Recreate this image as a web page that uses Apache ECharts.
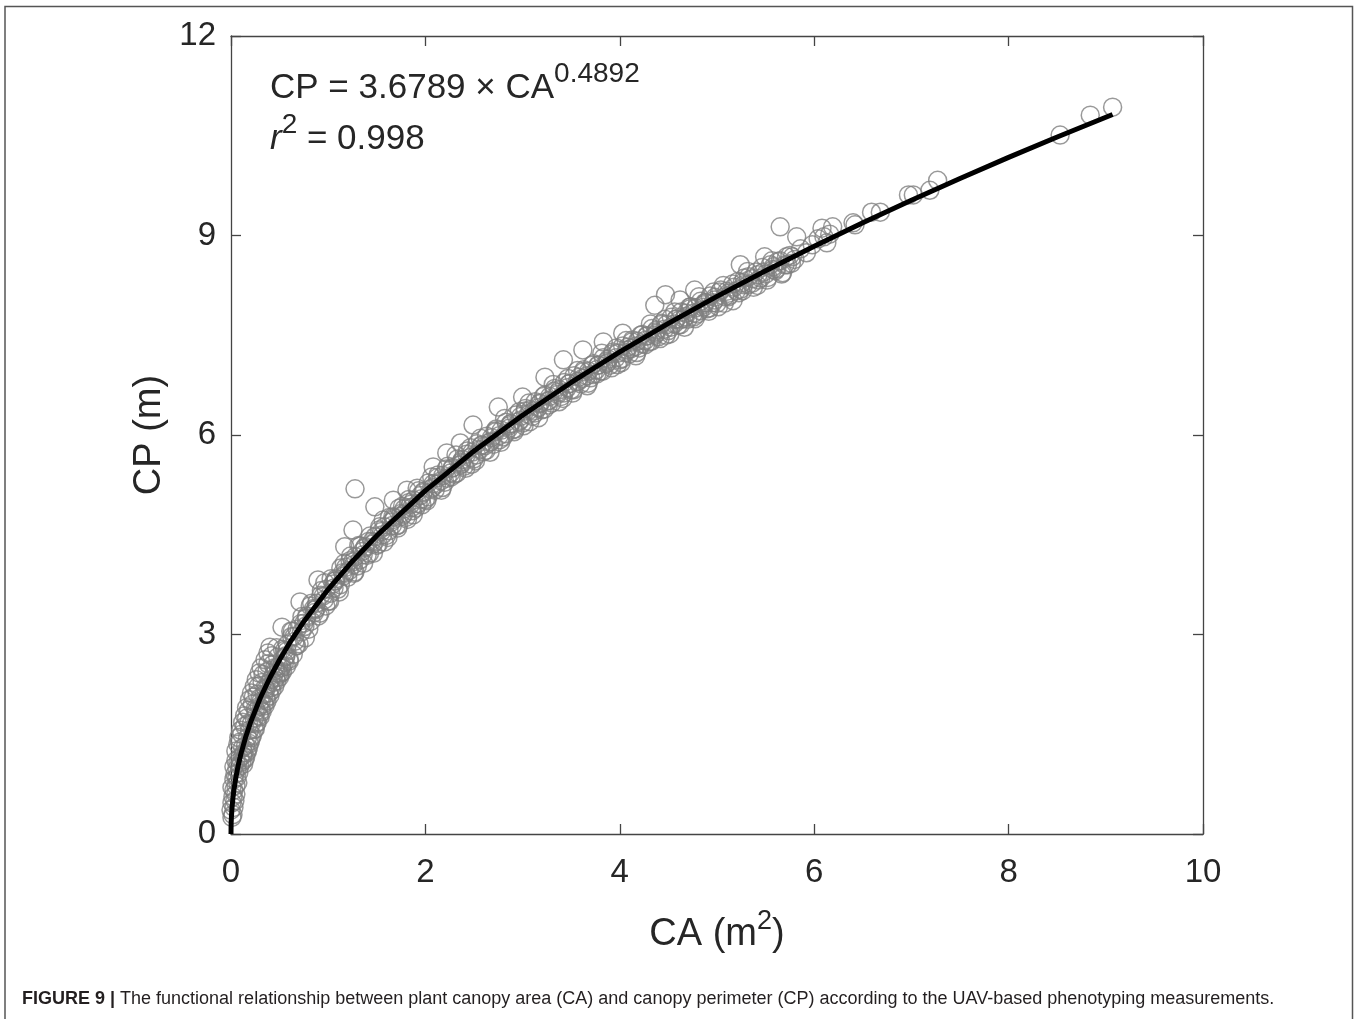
<!DOCTYPE html>
<html>
<head>
<meta charset="utf-8">
<script src="https://cdn.jsdelivr.net/npm/echarts@6/dist/echarts.min.js"></script>
<style>
html,body{margin:0;padding:0;background:#fff;}
#c{width:1359px;height:1019px;}
</style>
</head>
<body>
<div id="c"></div>
<script>
// ---- data ----
const xTicks = [0, 2, 4, 6, 8, 10];
const yTicks = [0, 3, 6, 9, 12];

// fitted curve CP vs CA
const fitCA = [0, 0.001, 0.002, 0.005, 0.01, 0.02, 0.03, 0.05, 0.07, 0.1, 0.15, 0.2, 0.3, 0.4, 0.5, 0.6, 0.75, 1, 1.25, 1.5, 2, 2.5, 3, 3.5, 4, 4.5, 5, 5.5, 6, 6.5, 7, 7.5, 8, 8.5, 9.07];
const fitCP = [0, 0.125, 0.176, 0.276, 0.387, 0.543, 0.662, 0.850, 1.002, 1.193, 1.454, 1.674, 2.041, 2.350, 2.621, 2.866, 3.196, 3.679, 4.103, 4.486, 5.164, 5.760, 6.297, 6.790, 7.249, 7.679, 8.085, 8.471, 8.839, 9.192, 9.531, 9.858, 10.175, 10.481, 10.819];

// observations: small canopies
const lowPoints = [
[0.01,0.25],[0.02,0.29],[0.00,0.36],[0.03,0.40],[0.01,0.47],[0.04,0.50],[0.02,0.56],[0.05,0.60],[0.03,0.66],[0.01,0.70],
[0.05,0.73],[0.07,0.77],[0.03,0.82],[0.06,0.85],[0.04,0.90],[0.08,0.92],[0.06,0.98],[0.03,1.01],[0.09,1.02],[0.07,1.07],
[0.11,1.08],[0.05,1.10],[0.09,1.14],[0.12,1.18],[0.09,1.38],[0.13,1.22],[0.11,1.50],[0.15,1.33],[0.14,1.62],[0.17,1.45],
[0.16,1.74],[0.19,1.56],[0.18,1.86],[0.21,1.66],[0.22,1.95],[0.24,1.74],[0.23,2.06],[0.26,1.85],[0.27,2.10],[0.29,1.92],
[0.28,2.22],[0.31,2.00],[0.32,2.28],[0.34,2.10],[0.33,2.40],[0.36,2.18],[0.37,2.44],[0.39,2.26],[0.38,2.56],[0.41,2.32],
[0.43,2.55],[0.44,2.40],[0.42,2.68],[0.46,2.46],[0.48,2.66],[0.49,2.52],[0.47,2.80],[0.12,1.30],[0.18,1.66],[0.25,1.88],
[0.30,2.05],[0.35,2.20],[0.45,2.50],[0.13,1.05],[0.15,1.15],[0.17,1.25],[0.19,1.36],[0.21,1.45],[0.24,1.57],[0.26,1.66],
[0.29,1.78],[0.31,1.86],[0.34,1.96],[0.36,2.04],[0.39,2.12],[0.41,2.20],[0.44,2.28],[0.46,2.35],[0.49,2.42],[0.52,2.50],[0.55,2.58]
];
const lowExtra = [
[0.14,1.12],[0.16,1.22],[0.18,1.30],[0.20,1.40],[0.22,1.48],[0.25,1.58],[0.27,1.68],[0.30,1.76],[0.32,1.84],[0.35,1.93],
[0.37,2.00],[0.40,2.08],[0.42,2.16],[0.45,2.22],[0.47,2.30],[0.50,2.36],[0.53,2.44],[0.57,2.52],[0.60,2.60],[0.64,2.70],
[0.05,1.25],[0.07,1.35],[0.08,1.45],[0.10,1.56],[0.12,1.68],[0.14,1.78],[0.16,1.90],[0.19,2.02],[0.21,2.12],[0.24,2.22],
[0.26,2.32],[0.29,2.42],[0.31,2.50],[0.35,2.62],[0.38,2.72]
];

// observations: CA 0.5 - 2
const midPoints = [
[0.50,2.40],[0.53,2.78],[0.56,2.66],[0.60,2.63],[0.63,3.05],[0.66,2.90],[0.70,2.86],[0.73,3.27],[0.76,3.12],[0.80,3.08],
[0.83,3.47],[0.86,3.33],[0.90,3.28],[0.93,3.66],[0.96,3.52],[1.00,3.50],[1.03,3.84],[1.06,3.70],[1.10,3.68],[1.13,4.00],
[1.16,3.88],[1.20,3.86],[1.23,4.18],[1.26,4.05],[1.30,4.03],[1.33,4.33],[1.36,4.20],[1.40,4.19],[1.43,4.48],[1.46,4.36],
[1.50,4.34],[1.53,4.62],[1.56,4.50],[1.60,4.49],[1.63,4.76],[1.66,4.64],[1.70,4.63],[1.73,4.90],[1.76,4.78],[1.80,4.76],
[1.83,5.03],[1.86,4.91],[1.90,4.90],[1.93,5.16],[1.96,5.04],
[0.58,2.85],[0.68,3.08],[0.78,3.28],[0.88,3.47],[0.98,3.68],[1.08,3.84],[1.18,4.01],[1.28,4.17],[1.38,4.32],[1.48,4.47],
[1.58,4.62],[1.68,4.76],[1.78,4.89],[1.88,5.02],[1.98,5.15]
];
const midExtra = [
[0.515,2.42],[0.565,2.68],[0.615,3.05],[0.665,2.83],[0.715,3.16],[0.765,2.95],[0.815,3.43],[0.865,3.37],[0.915,3.32],[0.965,3.78],
[1.015,3.50],[1.065,3.80],[1.115,3.64],[1.165,4.07],[1.215,3.96],[1.265,3.92],[1.315,4.34],[1.365,4.07],[1.415,4.40],[1.465,4.22],
[1.515,4.36],[1.565,4.72],[1.615,4.46],[1.665,4.77],[1.715,4.60],[1.765,4.93],[1.815,4.73],[1.865,4.86],[1.915,5.20],[1.965,4.95],
[0.55,2.76],[0.65,2.97],[0.75,3.17],[0.85,3.39],[0.95,3.58],[1.05,3.76],[1.15,3.93],[1.25,4.09],[1.35,4.25],[1.45,4.40],
[1.55,4.55],[1.65,4.69],[1.75,4.82],[1.85,4.96],[1.95,5.09]
];
const midFill = [
[0.525,2.53],[0.575,2.75],[0.625,2.97],[0.675,2.83],[0.725,3.04],[0.775,3.25],[0.825,3.20],[0.875,3.39],[0.925,3.59],[0.975,3.43],
[1.025,3.62],[1.075,3.81],[1.125,3.75],[1.175,3.92],[1.225,4.11],[1.275,3.94],[1.325,4.12],[1.375,4.30],[1.425,4.22],[1.475,4.39],
[1.525,4.57],[1.575,4.39],[1.625,4.56],[1.675,4.73],[1.725,4.65],[1.775,4.81],[1.825,4.98],[1.875,4.80],[1.925,4.97],[1.975,5.13]
];

// observations: CA 2 - 4
const upperPoints = [
[2.00,5.03],[2.03,5.28],[2.06,5.19],[2.10,5.17],[2.13,5.40],[2.16,5.31],[2.20,5.29],[2.23,5.53],[2.26,5.43],[2.30,5.41],
[2.33,5.64],[2.36,5.55],[2.40,5.53],[2.43,5.76],[2.46,5.66],[2.50,5.64],[2.53,5.87],[2.56,5.78],[2.60,5.75],[2.63,5.98],
[2.66,5.89],[2.70,5.86],[2.73,6.09],[2.76,5.99],[2.80,5.97],[2.83,6.19],[2.86,6.10],[2.90,6.08],[2.93,6.30],[2.96,6.20],
[3.00,6.18],[3.03,6.40],[3.06,6.31],[3.10,6.28],[3.13,6.50],[3.16,6.41],[3.20,6.38],[3.23,6.60],[3.26,6.51],[3.30,6.48],
[3.33,6.70],[3.36,6.61],[3.40,6.58],[3.43,6.79],[3.46,6.71],[3.50,6.68],[3.53,6.89],[3.56,6.80],[3.60,6.77],[3.63,6.98],
[3.66,6.89],[3.70,6.86],[3.73,7.07],[3.76,6.98],[3.80,6.96],[3.83,7.16],[3.86,7.07],[3.90,7.05],[3.93,7.25],[3.96,7.16],
[2.08,5.27],[2.18,5.39],[2.28,5.51],[2.38,5.63],[2.48,5.74],[2.58,5.85],[2.68,5.96],[2.78,6.07],[2.88,6.17],[2.98,6.28],
[3.08,6.38],[3.18,6.48],[3.28,6.58],[3.38,6.68],[3.48,6.77],[3.58,6.87],[3.68,6.96],[3.78,7.05],[3.88,7.14],[3.98,7.23]
];
const upperExtra = [
[2.015,5.01],[2.065,5.37],[2.115,5.26],[2.165,5.17],[2.215,5.49],[2.265,5.37],[2.315,5.70],[2.365,5.59],[2.415,5.50],[2.465,5.81],
[2.515,5.61],[2.565,5.95],[2.615,5.84],[2.665,5.74],[2.715,6.06],[2.765,5.93],[2.815,6.25],[2.865,6.14],[2.915,6.05],[2.965,6.35],
[3.015,6.14],[3.065,6.48],[3.115,6.36],[3.165,6.26],[3.215,6.58],[3.265,6.45],[3.315,6.76],[3.365,6.64],[3.415,6.55],[3.465,6.85],
[3.515,6.63],[3.565,6.97],[3.615,6.85],[3.665,6.74],[3.715,7.05],[3.765,6.92],[3.815,7.23],[3.865,7.11],[3.915,7.01],[3.965,7.31]
];
const upperFill = [
[2.025,5.07],[2.075,5.21],[2.125,5.36],[2.175,5.21],[2.225,5.35],[2.275,5.50],[2.325,5.43],[2.375,5.57],[2.425,5.71],[2.475,5.56],
[2.525,5.70],[2.575,5.84],[2.625,5.77],[2.675,5.90],[2.725,6.05],[2.775,5.89],[2.825,6.02],[2.875,6.17],[2.925,6.09],[2.975,6.22],
[3.025,6.36],[3.075,6.20],[3.125,6.33],[3.175,6.47],[3.225,6.39],[3.275,6.52],[3.325,6.66],[3.375,6.50],[3.425,6.63],[3.475,6.77],
[3.525,6.68],[3.575,6.81],[3.625,6.95],[3.675,6.78],[3.725,6.91],[3.775,7.05],[3.825,6.96],[3.875,7.09],[3.925,7.22],[3.975,7.06]
];

// observations: CA 4 - 6
const highPoints = [
[4.00,7.13],[4.03,7.34],[4.06,7.24],[4.10,7.22],[4.13,7.43],[4.16,7.33],[4.20,7.31],[4.23,7.51],[4.26,7.42],[4.30,7.40],
[4.33,7.60],[4.36,7.50],[4.40,7.48],[4.43,7.68],[4.46,7.59],[4.50,7.57],[4.53,7.77],[4.56,7.67],[4.60,7.65],[4.63,7.85],
[4.66,7.75],[4.70,7.74],[4.73,7.93],[4.76,7.83],[4.80,7.82],[4.83,8.01],[4.86,7.92],[4.90,7.90],[4.93,8.09],[4.96,7.99],
[5.00,7.98],[5.04,8.18],[5.08,8.08],[5.12,8.08],[5.16,8.27],[5.20,8.17],[5.24,8.19],[5.28,8.36],[5.32,8.26],[5.36,8.28],
[5.40,8.45],[5.45,8.36],[5.50,8.42],[5.55,8.56],[5.60,8.47],[5.65,8.62],[5.70,8.56],[5.75,8.70],[5.80,8.64],[5.86,8.80],[5.92,8.74],
[4.08,7.32],[4.18,7.41],[4.28,7.49],[4.38,7.58],[4.48,7.66],[4.58,7.74],[4.68,7.83],[4.78,7.91],[4.88,7.99],[4.98,8.07],
[5.10,8.16],[5.26,8.29],[5.42,8.41],[5.58,8.53]
];
const highExtra = [
[4.015,7.09],[4.065,7.42],[4.115,7.30],[4.165,7.19],[4.215,7.50],[4.265,7.36],[4.315,7.67],[4.365,7.55],[4.415,7.45],[4.465,7.74],
[4.515,7.52],[4.565,7.85],[4.615,7.73],[4.665,7.62],[4.715,7.92],[4.765,7.78],[4.815,8.08],[4.865,7.96],[4.915,7.86],[4.965,8.15],
[5.015,7.93],[5.065,8.25],[5.115,8.13],[5.165,8.02],[5.215,8.31],[5.265,8.17],[5.315,8.46],[5.365,8.35],[5.415,8.25],[5.465,8.52],
[5.515,8.33],[5.565,8.62],[5.615,8.50],[5.665,8.42],[5.715,8.68],[5.765,8.58]
];
const highFill = [
[4.025,7.15],[4.075,7.28],[4.125,7.40],[4.175,7.24],[4.225,7.37],[4.275,7.49],[4.325,7.41],[4.375,7.53],[4.425,7.66],[4.475,7.50],
[4.525,7.62],[4.575,7.74],[4.625,7.66],[4.675,7.78],[4.725,7.90],[4.775,7.75],[4.825,7.87],[4.875,7.99],[4.925,7.91],[4.975,8.03],
[5.025,8.15],[5.075,7.98],[5.125,8.10],[5.175,8.22],[5.225,8.14],[5.275,8.26],[5.325,8.38],[5.375,8.22],[5.425,8.33],[5.475,8.45],
[5.525,8.37],[5.575,8.49],[5.625,8.61],[5.675,8.44],[5.725,8.56],[5.775,8.68]
];

// observations lying clearly above the band
const outlierPoints = [
[0.40,2.81],[0.525,3.11],[0.71,3.49],[0.895,3.82],[1.17,4.32],[1.255,4.57],[1.48,4.92],[1.276,5.19],[1.67,5.02],[1.81,5.17],
[2.08,5.52],[2.22,5.73],[2.36,5.88],[2.49,6.15],[2.75,6.42],[3.00,6.57],[3.23,6.87],[3.42,7.13],[3.62,7.28],[3.83,7.40],
[4.03,7.53],[4.36,7.95],[4.47,8.11],[4.62,8.03],[4.77,8.18],[5.24,8.56],[5.49,8.68],[5.65,9.13],[5.82,8.98]
];

// few large canopies
const sparsePoints = [
[5.98,8.86],[6.04,8.95],[6.08,9.11],[6.10,8.98],[6.13,8.89],[6.16,9.02],[6.19,9.13],[6.40,9.19],[6.42,9.16],[6.59,9.35],
[6.68,9.35],[6.97,9.61],[7.02,9.61],[7.19,9.68],[7.27,9.83],[8.53,10.51],[8.84,10.81],[9.07,10.93]
];

// ---- chart ----
const scatterData = [].concat(lowPoints, lowExtra, midPoints, midExtra, midFill, upperPoints, upperExtra, upperFill,
                              highPoints, highExtra, highFill, outlierPoints, sparsePoints);
const fitData = fitCA.map((v, i) => [v, fitCP[i]]);

const FONT = '"Liberation Sans", Arial, Helvetica, sans-serif';
const AX = '#444444';
const TXT = '#262626';

const chart = echarts.init(document.getElementById('c'), null, {renderer: 'canvas'});
const axisCommon = {
  type: 'value',
  axisLine: {show: true, onZero: false, lineStyle: {color: AX, width: 1.3}},
  axisTick: {show: true, inside: true, length: 10, lineStyle: {color: AX, width: 1.3}},
  splitLine: {show: false}
};
chart.setOption({
  animation: false,
  backgroundColor: '#fff',
  grid: {left: 231, top: 36, width: 972, height: 798, containLabel: false, outerBoundsMode: 'none'},
  xAxis: [
    Object.assign({}, axisCommon, {
      position: 'bottom', min: xTicks[0], max: xTicks[xTicks.length - 1], interval: xTicks[1] - xTicks[0],
      axisLabel: {show: true, fontSize: 33, color: TXT, fontFamily: FONT, margin: 22, showMinLabel: true, showMaxLabel: true},
      name: '{a|CA (m}{s|2}{a|)}', nameLocation: 'middle', nameGap: 74,
      nameTextStyle: {fontSize: 38, color: TXT, fontFamily: FONT,
        rich: {a: {fontSize: 38, color: TXT, fontFamily: FONT, verticalAlign: 'bottom', lineHeight: 46},
               s: {fontSize: 27, color: TXT, fontFamily: FONT, verticalAlign: 'top', lineHeight: 46}}}
    }),
    Object.assign({}, axisCommon, {
      position: 'top', min: xTicks[0], max: xTicks[xTicks.length - 1], interval: xTicks[1] - xTicks[0],
      axisLabel: {show: false}
    })
  ],
  yAxis: [
    Object.assign({}, axisCommon, {
      position: 'left', min: yTicks[0], max: yTicks[yTicks.length - 1], interval: yTicks[1] - yTicks[0],
      axisLabel: {show: true, fontSize: 33, color: TXT, fontFamily: FONT, margin: 15, showMinLabel: true, showMaxLabel: true},
      name: 'CP (m)', nameLocation: 'middle', nameGap: 62, nameRotate: 90,
      nameTextStyle: {fontSize: 38, color: TXT, fontFamily: FONT}
    }),
    Object.assign({}, axisCommon, {
      position: 'right', min: yTicks[0], max: yTicks[yTicks.length - 1], interval: yTicks[1] - yTicks[0],
      axisLabel: {show: false}
    })
  ],
  series: [
    {
      type: 'scatter', xAxisIndex: 0, yAxisIndex: 0, data: scatterData,
      symbol: 'circle', symbolSize: 18, large: false,
      itemStyle: {color: 'rgba(0,0,0,0)', borderColor: '#808080', borderWidth: 1.5},
      emphasis: {disabled: true}, silent: true, z: 2
    },
    {
      type: 'line', xAxisIndex: 0, yAxisIndex: 0, data: fitData,
      showSymbol: false, symbol: 'none', smooth: false,
      lineStyle: {color: '#000', width: 5, cap: 'butt'},
      emphasis: {disabled: true}, silent: true, z: 3
    }
  ],
  graphic: [
    {type: 'rect', shape: {x: 5, y: 6.5, width: 1347.5, height: 1040}, style: {fill: 'none', stroke: '#555', lineWidth: 1.5}, silent: true, z: 0},
    {type: 'text', left: 270, top: 60, silent: true, z: 10,
      style: {text: '{a|CP = 3.6789 × CA}{s|0.4892}', fill: TXT,
        rich: {a: {fontSize: 35, fontFamily: FONT, fill: TXT, lineHeight: 46, verticalAlign: 'bottom'},
               s: {fontSize: 28, fontFamily: FONT, fill: TXT, lineHeight: 46, verticalAlign: 'top'}}}},
    {type: 'text', left: 270, top: 111, silent: true, z: 10,
      style: {text: '{i|r}{s|2}{a| = 0.998}', fill: TXT,
        rich: {i: {fontSize: 35, fontFamily: FONT, fontStyle: 'italic', fill: TXT, lineHeight: 46, verticalAlign: 'bottom'},
               a: {fontSize: 35, fontFamily: FONT, fill: TXT, lineHeight: 46, verticalAlign: 'bottom'},
               s: {fontSize: 28, fontFamily: FONT, fill: TXT, lineHeight: 46, verticalAlign: 'top'}}}},
    {type: 'text', left: 22, top: 990, silent: true, z: 10,
      style: {text: '{b|FIGURE 9 |}{r| The functional relationship between plant canopy area (CA) and canopy perimeter (CP) according to the UAV-based phenotyping measurements.}',
        rich: {b: {fontSize: 18, fontWeight: 'bold', fontFamily: FONT, fill: '#231f20'},
               r: {fontSize: 18, fontFamily: FONT, fill: '#231f20'}}}}
  ]
});
</script>
</body>
</html>
